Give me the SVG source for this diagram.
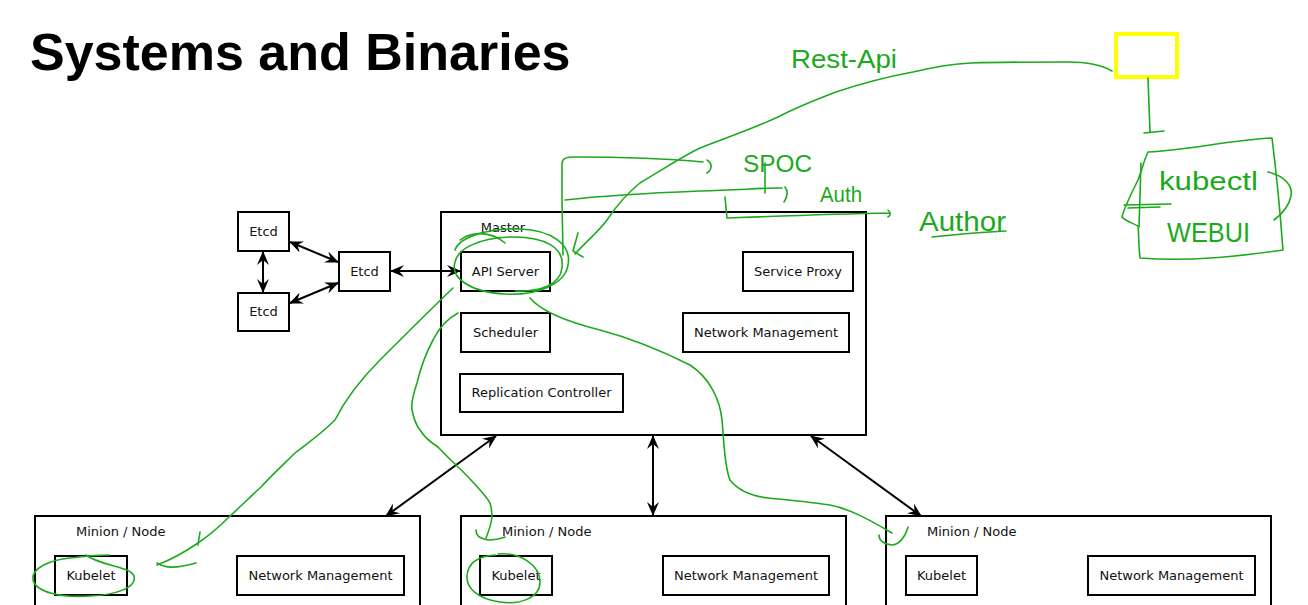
<svg xmlns="http://www.w3.org/2000/svg" width="1308" height="605" viewBox="0 0 1308 605">
<style>
.box{fill:#fff;stroke:#000;stroke-width:2}
.lbl{font-family:"DejaVu Sans",sans-serif;font-size:13px;fill:#111}
.conn{stroke:#000;stroke-width:2;fill:none;marker-start:url(#ah);marker-end:url(#ah)}
.g{fill:none;stroke:#1caa1c;stroke-width:1.6;stroke-linecap:round;stroke-linejoin:round}
.gt{font-family:"Liberation Sans",sans-serif;fill:#1caa1c}
</style>
<defs>
<marker id="ah" viewBox="0 0 14 12" refX="13" refY="6" markerWidth="14" markerHeight="12" markerUnits="userSpaceOnUse" orient="auto-start-reverse">
<path d="M0,0 L14,6 L0,12 L5,6 Z" fill="#000"/>
</marker>
</defs>
<rect width="1308" height="605" fill="#fff"/>
<text x="30" y="70" font-family="Liberation Sans,Arial,sans-serif" font-weight="bold" font-size="52" fill="#000">Systems and Binaries</text>

<g id="etcd1"><rect class="box" x="238" y="212" width="51" height="39"/><text class="lbl" x="263.5" y="236" text-anchor="middle">Etcd</text></g>
<g id="etcd2"><rect class="box" x="238" y="293" width="51" height="38"/><text class="lbl" x="263.5" y="316" text-anchor="middle">Etcd</text></g>
<g id="etcd3"><rect class="box" x="339" y="252" width="51" height="39"/><text class="lbl" x="364.5" y="276" text-anchor="middle">Etcd</text></g>

<g id="master">
<rect class="box" x="441" y="212" width="425" height="223"/>
<text class="lbl" x="503" y="232" text-anchor="middle">Master</text>
<g id="api"><rect class="box" x="461" y="252" width="89" height="39"/><text class="lbl" x="505.5" y="276" text-anchor="middle">API Server</text></g>
<g id="sched"><rect class="box" x="461" y="313" width="89" height="39"/><text class="lbl" x="505.5" y="337" text-anchor="middle">Scheduler</text></g>
<g id="repl"><rect class="box" x="460" y="374" width="163" height="38"/><text class="lbl" x="541.5" y="397" text-anchor="middle">Replication Controller</text></g>
<g id="sproxy"><rect class="box" x="743" y="252" width="110" height="39"/><text class="lbl" x="798" y="276" text-anchor="middle">Service Proxy</text></g>
<g id="mnet"><rect class="box" x="683" y="313" width="166" height="39"/><text class="lbl" x="766" y="337" text-anchor="middle">Network Management</text></g>
</g>

<g id="minion1">
<rect class="box" x="35" y="516" width="385" height="100"/>
<text class="lbl" x="76" y="536">Minion / Node</text>
<rect class="box" x="55" y="556" width="72" height="39"/><text class="lbl" x="91" y="580" text-anchor="middle">Kubelet</text>
<rect class="box" x="237" y="556" width="167" height="39"/><text class="lbl" x="320.5" y="580" text-anchor="middle">Network Management</text>
</g>
<g id="minion2">
<rect class="box" x="461" y="516" width="385" height="100"/>
<text class="lbl" x="502" y="536">Minion / Node</text>
<rect class="box" x="480" y="556" width="72" height="39"/><text class="lbl" x="516" y="580" text-anchor="middle">Kubelet</text>
<rect class="box" x="663" y="556" width="166" height="39"/><text class="lbl" x="746" y="580" text-anchor="middle">Network Management</text>
</g>
<g id="minion3">
<rect class="box" x="886" y="516" width="385" height="100"/>
<text class="lbl" x="927" y="536">Minion / Node</text>
<rect class="box" x="906" y="556" width="71" height="39"/><text class="lbl" x="941.5" y="580" text-anchor="middle">Kubelet</text>
<rect class="box" x="1088" y="556" width="167" height="39"/><text class="lbl" x="1171.5" y="580" text-anchor="middle">Network Management</text>
</g>

<g id="connectors">
<line class="conn" x1="290" y1="242" x2="338" y2="262"/>
<line class="conn" x1="290" y1="303" x2="338" y2="283"/>
<line class="conn" x1="263" y1="252" x2="263" y2="292"/>
<line class="conn" x1="391" y1="271" x2="460" y2="271"/>
<line class="conn" x1="496" y1="436" x2="386" y2="516"/>
<line class="conn" x1="653" y1="436" x2="653" y2="515"/>
<line class="conn" x1="811" y1="436" x2="921" y2="516"/>
</g>

<g id="annotations">
<rect x="1116" y="34" width="61" height="43" fill="none" stroke="#ffff00" stroke-width="4"/>
<path class="g" d="M1112,71 C1100,64 1085,62 1068,62 C1030,62 1000,62 971,63 C950,64 930,68 913,72 C880,78 860,84 836,92 C815,100 795,108 778,117 C750,130 725,138 700,148 C685,155 670,165 640,183 C625,195 615,208 607,220 C598,232 590,238 575,254"/>
<path class="g" d="M578,233 L573,251 L583,257"/>
<path class="g" d="M1148,78 L1150,132 M1144,133 L1164,131"/>
<path class="g" d="M1148,152 C1190,150 1230,140 1272,138 C1276,170 1280,210 1283,250 C1240,256 1190,262 1140,258 C1138,240 1139,232 1138,226 C1130,222 1124,220 1122,217 C1124,208 1130,196 1138,180 C1142,170 1144,160 1148,152"/>
<path class="g" d="M1141,163 L1139,227 M1124,205 L1171,204 M1128,208 L1160,207"/>
<path class="g" d="M1268,172 C1285,176 1293,186 1291,196 C1289,206 1282,214 1274,220"/>
<path class="g" d="M563,255 L562,200 L562,163 C563,158 566,157 575,157 C620,157 660,158 703,162 M707,160 C712,163 713,169 707,173"/>
<path class="g" d="M565,200 C600,196 650,193 700,191 C740,190 760,188 782,188 M785,187 C788,191 788,196 784,202"/>
<path class="g" d="M765,163 L765,193"/>
<path class="g" d="M725,197 L727,218 C780,216 830,214 890,213 M888,210 C891,213 891,215 888,217"/>
<path class="g" d="M932,237 C960,234 985,232 1006,231"/>
<path class="g" d="M455,250 C460,236 490,228 520,229 C552,230 572,245 568,265 C565,285 535,296 505,294 C470,292 450,278 455,262 C458,248 480,238 510,237 C545,236 565,248 562,268 C560,285 540,292 515,291"/>
<path class="g" d="M460,240 C470,232 490,230 505,243"/>
<path class="g" d="M530,298 C540,310 560,320 600,330 C630,338 660,350 690,365 C710,378 720,400 722,420 C724,440 724,465 730,480 C738,490 750,496 768,498 C790,500 810,502 830,505 C850,509 870,520 892,533"/>
<path class="g" d="M908,527 C905,538 898,545 892,545 C883,544 879,540 879,535"/>
<path class="g" d="M453,288 C430,310 400,340 380,360 C360,380 345,400 335,420 C320,435 305,445 295,453 C285,463 272,475 261,487 C250,497 240,507 229,517 C220,526 210,535 198,543 C185,552 170,560 157,565"/>
<path class="g" d="M200,532 L198,545 M157,563 C165,568 175,569 196,563"/>
<path class="g" d="M458,313 C445,320 438,330 433,340 C425,355 420,370 417,383 C413,395 411,405 412,410 C414,420 416,425 420,430 C425,438 430,442 438,447 C450,460 462,470 471,480 C480,490 487,497 490,503 C492,510 492,515 492,517 C491,525 488,533 486,538"/>
<path class="g" d="M476,530 C476,535 478,538 488,540 C495,540 500,539 505,537"/>
<path class="g" d="M86,555 C100,566 130,566 134,576 C137,588 115,595 90,596 C60,598 36,592 33,580 C31,568 50,560 70,558 C85,556 100,555 109,555"/>
<path class="g" d="M498,554 C520,552 540,565 540,582 C540,598 520,605 500,602 C478,599 466,588 467,576 C468,562 480,556 495,555"/>
<text class="gt" x="791" y="68" font-size="26" textLength="106" lengthAdjust="spacingAndGlyphs">Rest-Api</text>
<text class="gt" x="743" y="172" font-size="24" textLength="69" lengthAdjust="spacingAndGlyphs">SPOC</text>
<text class="gt" x="820" y="202" font-size="22" textLength="42" lengthAdjust="spacingAndGlyphs">Auth</text>
<text class="gt" x="919" y="231" font-size="27" textLength="87" lengthAdjust="spacingAndGlyphs">Author</text>
<text class="gt" x="1159" y="190" font-size="26" textLength="99" lengthAdjust="spacingAndGlyphs">kubectl</text>
<text class="gt" x="1167" y="242" font-size="28" textLength="83" lengthAdjust="spacingAndGlyphs">WEBUI</text>
</g>
</svg>
